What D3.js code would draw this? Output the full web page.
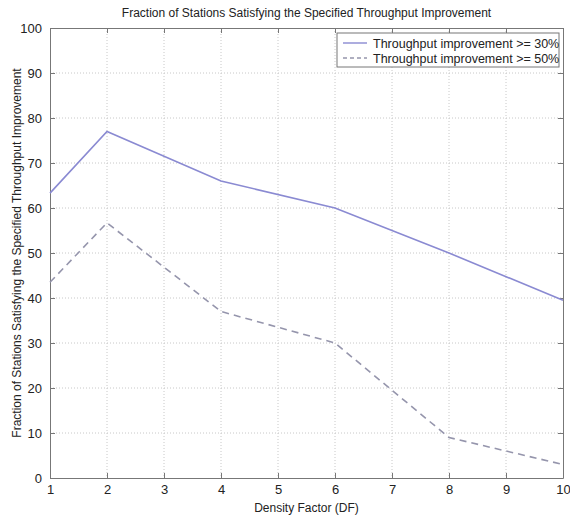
<!DOCTYPE html>
<html>
<head>
<meta charset="utf-8">
<script src="https://cdn.jsdelivr.net/npm/d3@7"></script>
<style>
  body { margin: 0; background: #fff; }
  text { font-family: "Liberation Sans", Arial, sans-serif; fill: #222; }
  .grid line { stroke: #c8c8c8; stroke-dasharray: 1,2; }
  .axis path, .axis line { stroke: #777; }
</style>
</head>
<body>
<svg id="chart"></svg>
<script>
// chart data
const densityFactors = [1, 2, 4, 6, 8, 10];
const improvement30 = [63.3, 77, 66, 60, 50, 39.5];
const improvement50 = [43.5, 56.7, 37, 30, 9, 3];
const seriesNames = ['Throughput improvement >= 30%', 'Throughput improvement >= 50%'];
const xTicks = [1, 2, 3, 4, 5, 6, 7, 8, 9, 10];
const yTicks = [0, 10, 20, 30, 40, 50, 60, 70, 80, 90, 100];

const width = 570, height = 516;
const margin = { top: 28, right: 7, bottom: 38, left: 50 };
const w = width - margin.left - margin.right;
const h = height - margin.top - margin.bottom;

const svg = d3.select('#chart')
    .attr('width', width)
    .attr('height', height);

const chart = svg.append('g')
    .attr('transform', `translate(${margin.left},${margin.top})`);

const xScale = d3.scaleLinear().domain([1, 10]).range([0, w]);
const yScale = d3.scaleLinear().domain([0, 100]).range([h, 0]);

// dotted grid
chart.append('g').attr('class', 'grid')
    .selectAll('line').data(xTicks.slice(1, -1)).join('line')
    .attr('x1', d => xScale(d)).attr('x2', d => xScale(d))
    .attr('y1', 0).attr('y2', h);
chart.append('g').attr('class', 'grid')
    .selectAll('line').data(yTicks.slice(1, -1)).join('line')
    .attr('y1', d => yScale(d)).attr('y2', d => yScale(d))
    .attr('x1', 0).attr('x2', w);

// axes, ticks pointing inwards like matlab
const xAxis = chart.append('g').attr('class', 'axis')
    .attr('transform', `translate(0,${h})`)
    .call(d3.axisBottom(xScale).tickValues(xTicks).tickSizeInner(-5).tickSizeOuter(0).tickPadding(7));
const xAxisTop = chart.append('g').attr('class', 'axis')
    .call(d3.axisTop(xScale).tickValues(xTicks).tickSizeInner(-5).tickSizeOuter(0).tickFormat(''));
const yAxis = chart.append('g').attr('class', 'axis')
    .call(d3.axisLeft(yScale).tickValues(yTicks).tickSizeInner(-5).tickSizeOuter(0).tickPadding(8));
const yAxisRight = chart.append('g').attr('class', 'axis')
    .attr('transform', `translate(${w},0)`)
    .call(d3.axisRight(yScale).tickValues(yTicks).tickSizeInner(-5).tickSizeOuter(0).tickFormat(''));

svg.selectAll('.axis text').style('font-size', '13px').attr('fill', '#222');

// lines
const line = d3.line()
    .x((d, i) => xScale(densityFactors[i]))
    .y(d => yScale(d));

chart.append('path')
    .datum(improvement30)
    .attr('fill', 'none')
    .attr('stroke', '#8a8ad2')
    .attr('stroke-width', 1.6)
    .attr('d', line);

chart.append('path')
    .datum(improvement50)
    .attr('fill', 'none')
    .attr('stroke', '#9595ac')
    .attr('stroke-width', 1.6)
    .attr('stroke-dasharray', '7,5')
    .attr('d', line);

// title and axis labels
svg.append('text')
    .attr('x', margin.left + w / 2)
    .attr('y', 17)
    .attr('text-anchor', 'middle')
    .style('font-size', '12px')
    .text('Fraction of Stations Satisfying the Specified Throughput Improvement');

svg.append('text')
    .attr('x', margin.left + w / 2)
    .attr('y', 512)
    .attr('text-anchor', 'middle')
    .style('font-size', '12px')
    .text('Density Factor (DF)');

svg.append('text')
    .attr('transform', `translate(21, ${margin.top + h / 2}) rotate(-90)`)
    .attr('text-anchor', 'middle')
    .style('font-size', '12px')
    .text('Fraction of Stations Satisfying the Specified Throughput Improvement');

// legend
const legend = svg.append('g').attr('transform', 'translate(337,33)');
legend.append('rect')
    .attr('width', 222).attr('height', 34)
    .attr('fill', '#fff').attr('stroke', '#777');
const legendStyles = [
    { color: '#8a8ad2', dash: null },
    { color: '#9595ac', dash: '4,3' }
];
seriesNames.forEach((name, i) => {
    const row = legend.append('g').attr('transform', `translate(0,${10 + i * 15})`);
    row.append('line')
        .attr('x1', 6).attr('x2', 30)
        .attr('stroke', legendStyles[i].color)
        .attr('stroke-width', 1.4)
        .attr('stroke-dasharray', legendStyles[i].dash);
    row.append('text')
        .attr('x', 36).attr('y', 4.5)
        .style('font-size', '12.5px')
        .text(name);
});
</script>
</body>
</html>
